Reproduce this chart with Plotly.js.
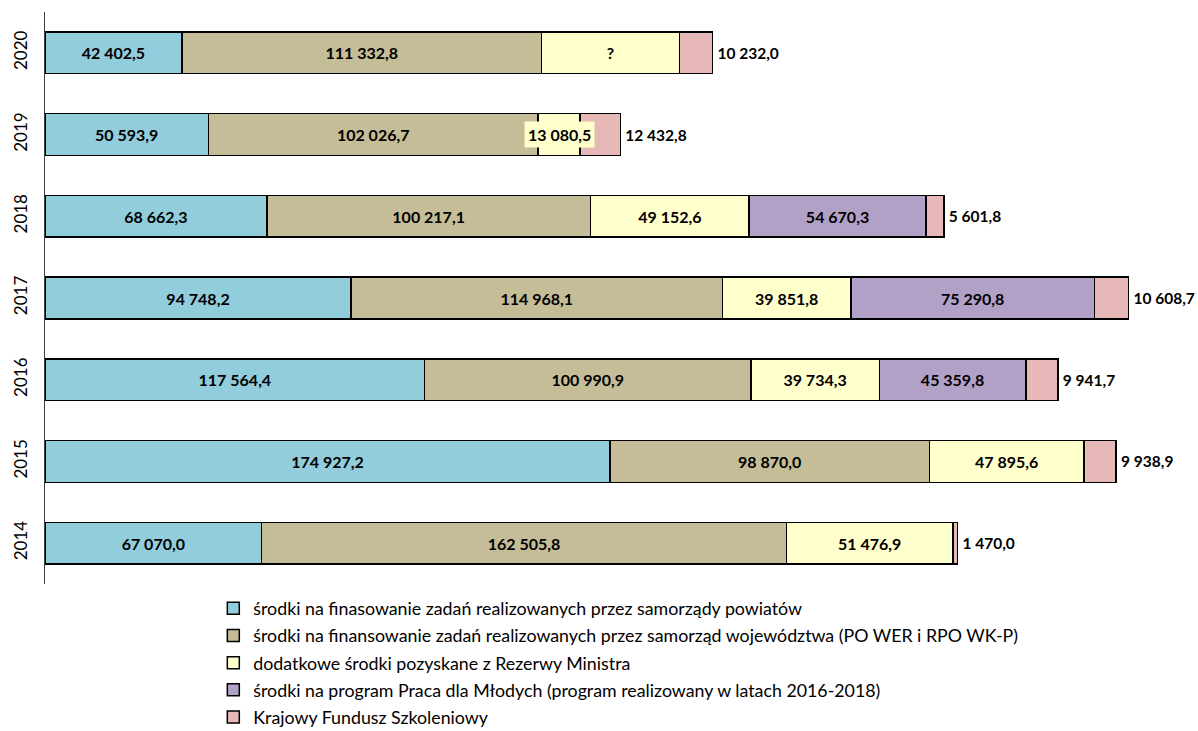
<!DOCTYPE html>
<html>
<head>
<meta charset="utf-8">
<script src="https://cdn.plot.ly/plotly-3.0.1.min.js"></script>
<style>html,body{margin:0;padding:0;background:#fff;}#chart{width:1198px;height:731px;}</style>
</head>
<body>
<div id="chart"></div>
<script>
const years = ['2014','2015','2016','2017','2018','2019','2020'];
const seriesNames = [
  'środki na finasowanie zadań realizowanych przez samorządy powiatów',
  'środki na finansowanie zadań realizowanych przez samorząd województwa (PO WER i RPO WK-P)',
  'dodatkowe środki pozyskane z Rezerwy Ministra',
  'środki na program Praca dla Młodych (program realizowany w latach 2016-2018)',
  'Krajowy Fundusz Szkoleniowy'
];
const powiaty   = [67070.0, 174927.2, 117564.4, 94748.2, 68662.3, 50593.9, 42402.5];
const wojewodztwo = [162505.8, 98870.0, 100990.9, 114968.1, 100217.1, 102026.7, 111332.8];
// 2020 value is unknown ("?") in the source; bar length
const rezerwa   = [51476.9, 47895.6, 39734.3, 39851.8, 49152.6, 13080.5, 42700];
const rezerwaLabels = ['51 476,9','47 895,6','39 734,3','39 851,8','49 152,6','13 080,5','?'];
const pracaMlodych = [null, null, 45359.8, 75290.8, 54670.3, null, null];
const kfs       = [1470.0, 9938.9, 9941.7, 10608.7, 5601.8, 12432.8, 10232.0];
const colors = ['#92CDDC','#C4BD97','#FFFFCC','#B2A1C7','#E6B9B8'];

function fmt(v){
  if(v===null||v===undefined) return '';
  const s = v.toFixed(1).split('.');
  const int = s[0].replace(/\B(?=(\d{3})+(?!\d))/g,' ');
  return int + ',' + s[1];
}

const font = 'Lato, "Open Sans", sans-serif';
const labelFont = {family: font, size: 16, color: '#000', weight: 'bold'};
const outLabelFont = {family: font, size: 15.5, color: '#000', weight: 'bold'};

function mk(i, vals, texts, pos){
  const f = pos === 'outside' ? outLabelFont : labelFont;
  return {
    type:'bar', orientation:'h', name: seriesNames[i], legendgroup: 'g' + i, y: years, x: vals,
    text: texts, textposition: pos || 'inside', insidetextanchor:'middle',
    constraintext:'none', cliponaxis:false,
    textfont: f, insidetextfont: f, outsidetextfont: f,
    marker:{color: colors[i], line:{color:'#000', width:1.5}},
    hoverinfo:'skip'
  };
}

// 2019 reserve label is drawn as an annotation with a background box (it overflows its bar)
const idx2019 = years.indexOf('2019');
const rezerwaText = rezerwaLabels.map((t,k)=> k===idx2019 ? '' : t);

const traces = [
  mk(0, powiaty, powiaty.map(fmt)),
  mk(1, wojewodztwo, wojewodztwo.map(fmt)),
  mk(2, rezerwa, rezerwaText),
  mk(3, pracaMlodych, pracaMlodych.map(fmt)),
  mk(4, kfs, kfs.map(v => '\u2009' + fmt(v)), 'outside')
];

const layout = {
  width:1198, height:731,
  margin:{l:45, r:8, t:12, b:147, autoexpand:false},
  paper_bgcolor:'#fff', plot_bgcolor:'#fff',
  barmode:'stack', bargap:0.49,
  font:{family:font, size:14, color:'#000'},
  xaxis:{range:[0,354500], visible:false, showgrid:false, zeroline:false},
  yaxis:{type:'category', range:[-0.5,6.5], showline:true, linecolor:'#404040', linewidth:1,
         ticks:'', tickangle:-90, tickfont:{family:font, size:17, color:'#000'}, showgrid:false, zeroline:false,
         ticklabelstandoff:10},
  showlegend:true,
  legend:{orientation:'v', x:0.147, xanchor:'left', y:-0.011, yanchor:'top', traceorder:'grouped',
          font:{family:font, size:17.8, color:'#000'}, tracegroupgap:1, itemwidth:30, bgcolor:'rgba(0,0,0,0)'},
  annotations:[{
    xref:'x', yref:'y', y: idx2019,
    x: powiaty[idx2019] + wojewodztwo[idx2019] + rezerwa[idx2019]/2,
    text: '<b>' + rezerwaLabels[idx2019] + '</b>', showarrow:false, bgcolor: colors[2],
    font: {family: font, size: 16, color: '#000'}, borderpad:3
  }]
};

Plotly.newPlot('chart', traces, layout, {displayModeBar:false, staticPlot:true});
</script>
</body>
</html>
